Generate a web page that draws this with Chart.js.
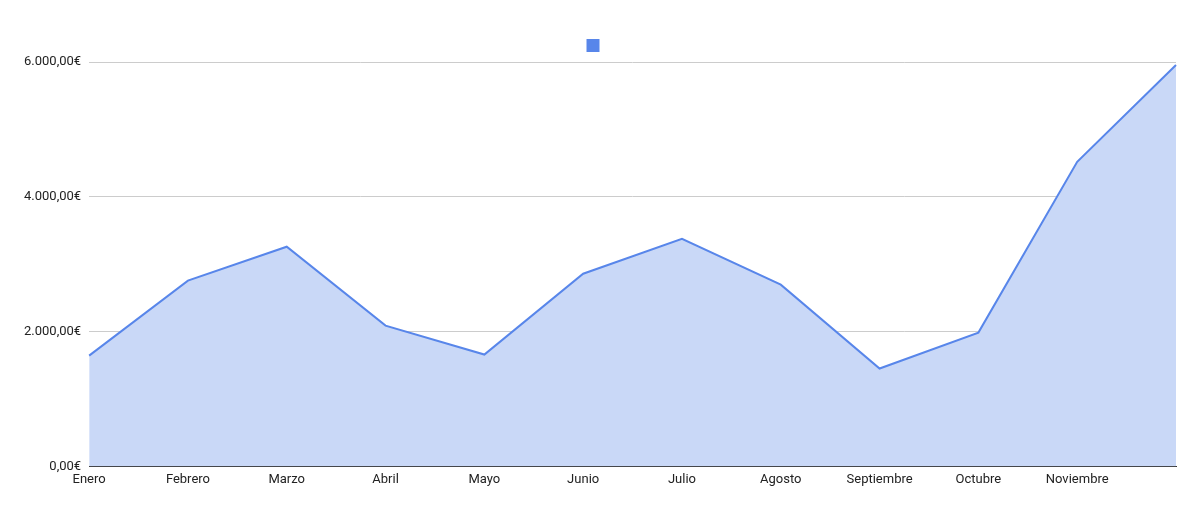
<!DOCTYPE html>
<html>
<head>
<meta charset="utf-8">
<script src="https://cdn.jsdelivr.net/npm/chart.js@4/dist/chart.umd.min.js"></script>
<style>
  html, body { margin: 0; padding: 0; background: #fff; }
  #wrap { width: 1200px; height: 508px; }
</style>
</head>
<body>
<div id="wrap"><canvas id="chart"></canvas></div>
<script>
// Datos
const months = ['Enero', 'Febrero', 'Marzo', 'Abril', 'Mayo', 'Junio', 'Julio', 'Agosto', 'Septiembre', 'Octubre', 'Noviembre', 'Diciembre'];
const sales = [1644, 2756, 3259, 2089, 1659, 2859, 3378, 2696, 1452, 1985, 4519, 5956];
const yTicks = [0, 2000, 4000, 6000];

const euro = v => v.toLocaleString('de-DE', { minimumFractionDigits: 2, maximumFractionDigits: 2 }) + '€';

new Chart(document.getElementById('chart'), {
    type: 'line',
    data: {
        labels: months,
        datasets: [{
            label: '',
            data: sales,
            borderColor: '#5886ea',
            backgroundColor: '#c9d8f7',
            borderWidth: 2,
            fill: true,
            tension: 0,
            pointRadius: 0
        }]
    },
    options: {
        responsive: true,
        maintainAspectRatio: false,
        animation: false,
        layout: { padding: { left: 16, right: 24, top: 12, bottom: 14 } },
        plugins: {
            legend: {
                display: true,
                labels: {
                    boxWidth: 13, boxHeight: 13, padding: 27, color: '#222',
                    // cuadro relleno sólido como en el original
                    generateLabels: () => [{
                        text: '', fillStyle: '#5886ea', strokeStyle: '#5886ea',
                        lineWidth: 0, datasetIndex: 0
                    }]
                }
            },
            tooltip: { enabled: false }
        },
        scales: {
            x: {
                offset: false,
                grid: { display: false, drawTicks: false },
                border: { color: '#333', width: 1 },
                ticks: {
                    color: '#222',
                    font: { family: 'Roboto', size: 13 },
                    padding: 6,
                    maxRotation: 0,
                    autoSkip: false,
                    callback: (v, i) => i === months.length - 1 ? '' : months[i]
                }
            },
            y: {
                min: 0,
                max: 6000,
                afterBuildTicks: axis => { axis.ticks = yTicks.map(v => ({ value: v })); },
                grid: { color: '#cccccc', drawTicks: false },
                border: { display: false },
                ticks: {
                    color: '#222',
                    font: { family: 'Roboto', size: 13 },
                    padding: 8,
                    callback: v => euro(v)
                }
            }
        }
    }
});
</script>
</body>
</html>
